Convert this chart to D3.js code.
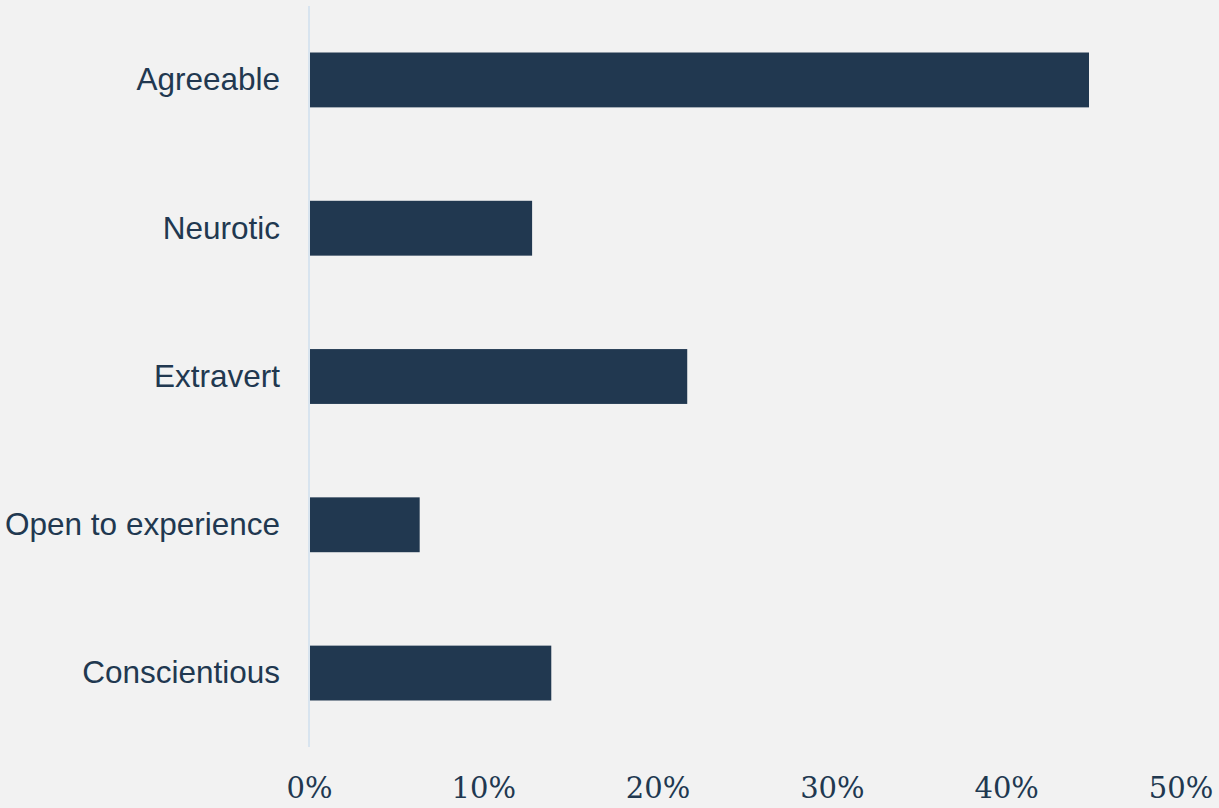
<!DOCTYPE html>
<html>
<head>
<meta charset="utf-8">
<script src="https://cdn.jsdelivr.net/npm/d3@7"></script>
<style>
  html, body { margin: 0; padding: 0; background: #f2f2f2; }
  svg { display: block; }
</style>
</head>
<body>
<div id="chart"></div>
<script>
const categories = ["Agreeable", "Neurotic", "Extravert", "Open to experience", "Conscientious"];
const values = [44.75, 12.8, 21.7, 6.35, 13.9];
const tickValues = [0, 10, 20, 30, 40, 50];
const tickLabels = ["0%", "10%", "20%", "30%", "40%", "50%"];

const W = 1219, H = 808;
const svg = d3.select("#chart").append("svg").attr("width", W).attr("height", H);
svg.append("rect").attr("width", W).attr("height", H).attr("fill", "#f2f2f2");

const x = d3.scaleLinear().domain([0, 50]).range([309, 1180.5]);
const y = d3.scaleBand().domain(categories).range([5.8, 747.2]).paddingInner(0.63).paddingOuter(0.315);

const color = "#213850";

// bars
svg.append("g").selectAll("rect").data(categories).join("rect")
  .attr("x", x(0))
  .attr("y", d => y(d))
  .attr("width", (d, i) => x(values[i]) - x(0))
  .attr("height", y.bandwidth())
  .attr("fill", color);

// vertical axis line
svg.append("line")
  .attr("x1", x(0)).attr("x2", x(0))
  .attr("y1", 6).attr("y2", 747)
  .attr("stroke", "#d8e4ef").attr("stroke-width", 2);

// category labels
const yAxis = d3.axisLeft(y).tickSize(0).tickPadding(0);
const gy = svg.append("g").attr("transform", `translate(${280},0)`).call(yAxis);
gy.select(".domain").remove();
gy.selectAll("text")
  .attr("font-family", "'Liberation Sans', Arial, sans-serif")
  .attr("font-size", "31.5px")
  .attr("fill", color)
  .attr("dy", "0.33em");

// x tick labels
const xAxis = d3.axisBottom(x).tickValues(tickValues).tickFormat((d, i) => tickLabels[i]).tickSize(0).tickPadding(0);
const gx = svg.append("g").attr("transform", `translate(0,${798})`).call(xAxis);
gx.select(".domain").remove();
gx.selectAll("text")
  .attr("font-family", "'DejaVu Serif', serif")
  .attr("font-size", "29px")
  .attr("fill", color)
  .attr("dy", 0)
  .attr("y", 0);
</script>
</body>
</html>
